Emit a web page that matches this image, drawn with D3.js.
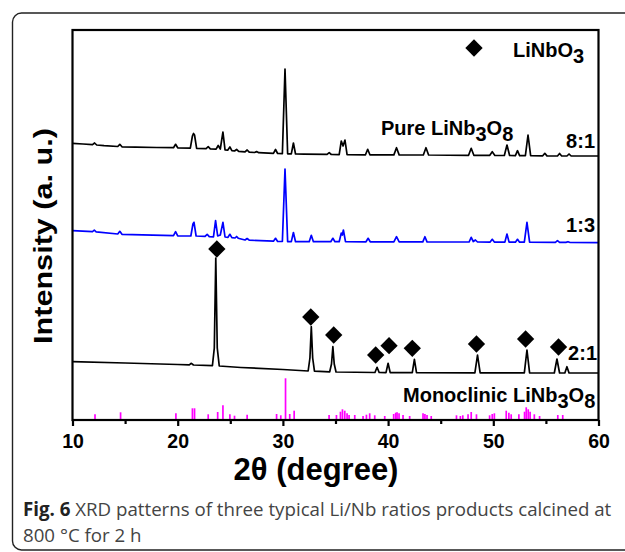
<!DOCTYPE html>
<html>
<head>
<meta charset="utf-8">
<script src="https://cdn.jsdelivr.net/npm/d3@7"></script>
<style>
  body { margin: 0; background: #fff; }
  svg text { font-family: "Liberation Sans", Arial, sans-serif; }
  svg text.caption { font-family: "Open Sans", sans-serif; }
</style>
</head>
<body>
<div id="chart"></div>
<script>
// DATA  (2theta in degree, intensity in arbitrary units)
const ticks2theta = [10, 20, 30, 40, 50, 60]
const minorTicks = [15, 25, 35, 45, 55]

// Li/Nb = 8:1  (pure LiNb3O8)
const pattern81 = [[10,276.7],[11,276],[11.9,275.4],[12.1,277],[12.3,275],[13,274.3],[14.3,273.5],[14.5,275.7],[14.7,273.2],[16,272.9],[18,272.5],[19.6,272.3],[19.8,275.7],[20,272.2],
  [21.2,271.9],[21.4,284],[21.5,286.5],[21.6,285],[21.8,271.7],[22.7,271.4],[22.9,273.3],[23.1,271.2],[23.65,270.8],[23.85,274.5],[24.05,271],[24.3,288],[24.5,270.2],
  [24.75,269.8],[24.96,273],[25.15,269.4],[25.4,269],[25.6,270.5],[25.8,268.6],[26.4,268.1],[26.6,270],[26.8,267.8],[27.3,267.5],[27.5,268.4],[27.7,267.3],[29.1,266.6],
  [29.3,270.5],[29.5,266.5],[29.95,266.3],[30.2,351],[30.45,266.2],[30.8,266.1],[31,277],[31.2,266],[32,265.9],[34.2,265.6],[34.4,267.3],[34.6,265.5],[35.35,265.4],
  [35.55,279],[35.72,274],[35.9,280],[36.1,265.3],[37.85,265.2],[38.06,270.7],[38.27,265.2],[40.55,265.1],[40.8,272.3],[41.05,265.1],[43.35,265],[43.6,272.3],[43.85,265],
  [47.65,264.7],[47.9,271.7],[48.15,264.7],[49.65,264.6],[49.9,268.3],[50.15,264.6],[51.05,264.5],[51.3,275],[51.55,264.5],[52.1,264.4],[52.3,269.3],[52.5,264.4],
  [53.05,264.3],[53.3,285],[53.55,264.3],[54.7,264.2],[54.9,266.7],[55.1,264.1],[56.1,264],[56.3,266.5],[56.5,264],[57,264],[57.2,266],[57.4,264],[60,264]]

// Li/Nb = 1:3
const pattern13 = [[10,189.3],[11.9,188.4],[12.07,189.8],[12.25,188.2],[14.3,186],[14.5,188.7],[14.7,185.7],[19.6,184.3],[19.8,188.3],[20,184.2],[21.25,184],[21.45,196],
  [21.55,197.7],[21.75,184],[22.6,183.6],[22.8,185.7],[23,183.4],[23.4,183.2],[23.6,199.3],[23.8,184],[24.05,185],[24.3,197.7],[24.5,183],[24.78,182.7],[24.96,185.7],
  [25.15,182.4],[25.45,182],[25.6,183.5],[25.75,181.8],[26.4,180],[26.6,181.5],[26.8,179.8],[29.1,178.8],[29.3,181.7],[29.5,178.6],[29.95,178.5],[30.2,251],[30.45,178.4],
  [30.8,178.4],[31,187.5],[31.2,178.3],[32.5,178.3],[32.7,184.7],[32.9,178.3],[34.55,178.3],[34.75,181.7],[34.95,178.3],[35.35,178.3],[35.55,187],[35.65,185],[35.75,190],
  [35.95,178.3],[37.9,178.2],[38.1,181.7],[38.3,178.2],[40.55,178.2],[40.8,183.3],[41.05,178.2],[43.3,178.1],[43.5,183.3],[43.7,178.1],[47.7,178],[47.9,182.7],[48.1,178.5],
  [48.3,180],[48.5,178],[49.7,177.9],[49.9,180.7],[50.1,177.9],[51.1,177.9],[51.3,186],[51.5,177.9],[52.1,177.8],[52.3,180.7],[52.5,177.8],[52.95,177.8],[53.2,197.7],
  [53.45,177.8],[55.9,177.6],[56.1,179.3],[56.3,177.6],[56.9,177.6],[57.1,178.3],[57.3,177.5],[60,177.3]]

// Li/Nb = 2:1
const pattern21 = [[10,58.3],[15,57],[20,55.5],[21.1,55.1],[21.3,56.7],[21.5,55],[23.3,54.3],[23.48,72],[23.62,162],[23.76,72],[23.95,54],[26,52.5],[30,50.5],
  [32.4,49],[32.57,62],[32.7,93.3],[32.83,62],[33,48.8],[34.45,48.2],[34.62,56],[34.75,73.3],[34.88,56],[35.05,48],[38.75,47.5],[38.95,52.7],[39.15,47.5],
  [39.8,47.4],[40,56.7],[40.2,47.4],[42.3,47.3],[42.5,60.7],[42.7,47.3],[48.25,47.2],[48.5,65],[48.75,47.2],[52.95,47.1],[53.2,70],[53.45,47.1],
  [55.8,47],[56.05,61],[56.3,47],[56.8,47],[57,53.3],[57.2,47],[60,47]]

// LiNbO3 markers above the 2:1 peaks
const linbo3Marks = [[23.72,171],[32.65,103],[34.83,85],[38.82,65],[40.09,74.3],[42.3,71.7],[48.4,76],[53.07,81],[56.2,73]]

// reference pattern, monoclinic LiNb3O8 : [2theta, relative height]
const refSticks = [[12.14,5.7],[14.57,7.7],[19.83,6.7],[21.4,11.7],[21.6,11.7],[22.9,5.7],[23.8,8],[24.3,14.7],[24.96,5.7],[25.4,4.3],[26.6,5.3],
  [29.4,6],[29.8,4.7],[30.25,41.7],[30.65,6],[31.07,9.3],[34.39,5],[35.09,5],[35.47,8.3],[35.66,10.7],[35.88,9.3],[36.1,6.7],[36.29,5],[36.83,5],
  [37.62,4],[37.94,5.3],[38.25,6.7],[38.73,4.7],[39.68,4],[40.53,6],[40.72,7.3],[40.85,7.7],[41.04,6.7],[41.42,5],[42.05,4],[43.32,6.7],[43.5,6],
  [43.7,5],[44.1,4],[46.5,4.7],[46.87,4],[47.1,4.7],[47.6,5.7],[47.9,8],[48.4,5.7],[49.65,4.7],[49.9,6],[50.1,6.7],[51.23,9.3],[51.48,7.3],
  [51.7,5.7],[52.43,5.7],[52.97,8.3],[53.13,12.7],[53.32,10.7],[53.5,8.3],[53.9,5.7],[54.4,4],[56.13,5],[56.6,5]]

const W = 625, H = 552
const mLeft = 72.5, mRight = 598.5, mTop = 30, mBottom = 420

// SCALES
const x = d3.scaleLinear().domain([10, 60]).range([mLeft, mRight])
const y = d3.scaleLinear().domain([0, 390]).range([mBottom, mTop])

const svg = d3.select("#chart").append("svg")
    .attr("width", W)
    .attr("height", H)

// outer figure frame
svg.append("rect")
    .attr("x", 12.5).attr("y", 13)
    .attr("width", 700).attr("height", 537)
    .attr("rx", 9)
    .attr("fill", "none")
    .attr("stroke", "#222")
    .attr("stroke-width", 1.4)

const line = d3.line()
    .x(d => x(d[0]))
    .y(d => y(d[1]))

// PATTERNS
svg.append("path").datum(pattern81)
    .attr("d", line).attr("fill", "none")
    .attr("stroke", "#000").attr("stroke-width", 1.7).attr("stroke-linejoin", "round")
svg.append("path").datum(pattern13)
    .attr("d", line).attr("fill", "none")
    .attr("stroke", "#0000ff").attr("stroke-width", 1.7).attr("stroke-linejoin", "round")
svg.append("path").datum(pattern21)
    .attr("d", line).attr("fill", "none")
    .attr("stroke", "#000").attr("stroke-width", 1.7).attr("stroke-linejoin", "round")

// reference sticks
svg.append("g")
    .selectAll("line")
    .data(refSticks)
    .join("line")
    .attr("x1", d => x(d[0])).attr("x2", d => x(d[0]))
    .attr("y1", y(0)).attr("y2", d => y(d[1]))
    .attr("stroke", "#ff00ff")
    .attr("stroke-width", 1.7)

// diamonds
const diamond = d3.symbol().type(d3.symbolSquare).size(150)
svg.append("g")
    .selectAll("path")
    .data(linbo3Marks)
    .join("path")
    .attr("d", diamond)
    .attr("transform", d => `translate(${x(d[0])},${y(d[1])}) rotate(45)`)
    .attr("fill", "#000")

// AXES
svg.append("g")
    .attr("transform", `translate(0,${mBottom})`)
    .call(d3.axisBottom(x).tickValues(minorTicks).tickSize(4).tickFormat(""))
    .call(g => g.select(".domain").remove())
    .call(g => g.selectAll("line").attr("stroke-width", 2.2))

svg.append("g")
    .attr("transform", `translate(0,${mBottom})`)
    .call(d3.axisBottom(x).tickValues(ticks2theta).tickSize(6).tickPadding(8).tickFormat(d3.format("d")))
    .call(g => g.select(".domain").remove())
    .call(g => g.selectAll("line").attr("stroke-width", 2.2))
    .call(g => g.selectAll("text")
        .attr("font-size", 19.5).attr("font-weight", "bold").attr("fill", "#000"))

// plot frame
svg.append("rect")
    .attr("x", mLeft).attr("y", mTop)
    .attr("width", mRight - mLeft).attr("height", mBottom - mTop)
    .attr("fill", "none")
    .attr("stroke", "#000")
    .attr("stroke-width", 2.2)

// AXIS TITLES
svg.append("text")
    .attr("x", 316).attr("y", 480)
    .attr("text-anchor", "middle")
    .attr("font-size", 31).attr("font-weight", "bold")
    .text("2\u03b8 (degree)")

svg.append("text")
    .attr("transform", "translate(52,236) rotate(-90)")
    .attr("text-anchor", "middle")
    .attr("font-size", 26).attr("font-weight", "bold")
    .attr("textLength", 216).attr("lengthAdjust", "spacingAndGlyphs")
    .text("Intensity (a. u.)")

// LABELS
function label(xp, yp, anchor, parts) {
  const t = svg.append("text")
      .attr("x", xp).attr("y", yp)
      .attr("text-anchor", anchor)
      .attr("font-size", 20).attr("font-weight", "bold")
  parts.forEach(p => {
    const s = t.append("tspan").text(p[0])
    if (p[1]) s.attr("baseline-shift", "-30%")
  })
  return t
}
label(381, 135, "start", [["Pure LiNb"], ["3", true], ["O"], ["8", true]])
label(595, 148, "end", [["8:1"]])
label(595, 232, "end", [["1:3"]])
label(597, 360, "end", [["2:1"]])
label(403, 402, "start", [["Monoclinic LiNb"], ["3", true], ["O"], ["8", true]])

// legend
svg.append("path")
    .attr("d", diamond)
    .attr("transform", "translate(474,48) rotate(45)")
    .attr("fill", "#000")
label(513, 57, "start", [["LiNbO"], ["3", true]])

// CAPTION
const cap = svg.append("text")
    .attr("class", "caption")
    .attr("x", 23).attr("y", 516)
    .attr("font-size", 18.7)
    .attr("fill", "#444")
cap.append("tspan").attr("font-weight", "bold").attr("fill", "#222").text("Fig. 6")
cap.append("tspan").text(" XRD patterns of three typical Li/Nb ratios products calcined at")
svg.append("text")
    .attr("class", "caption")
    .attr("x", 23).attr("y", 542)
    .attr("font-size", 18.7)
    .attr("fill", "#444")
    .text("800 \u00b0C for 2 h")
</script>
</body>
</html>
